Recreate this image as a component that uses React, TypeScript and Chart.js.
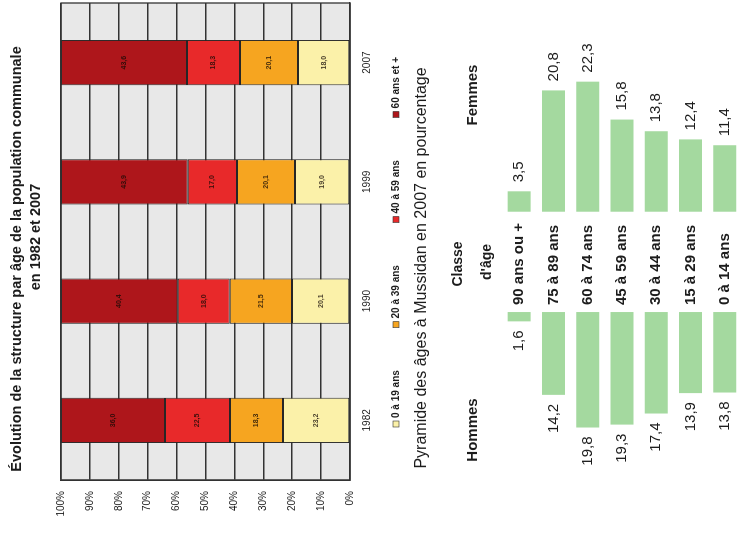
import { useEffect, useRef } from "react";
import { Chart, registerables } from "chart.js";

Chart.register(...registerables);

// Structure par âge, parts en % de la population communale
const years = ["1982", "1990", "1999", "2007"];
const ageGroups = ["0 à 19 ans", "20 à 39 ans", "40 à 59 ans", "60 ans et +"];
const share0to19 = [23.2, 20.1, 19.0, 18.0];
const share20to39 = [18.3, 21.5, 20.1, 20.1];
const share40to59 = [22.5, 18.0, 17.0, 18.3];
const share60plus = [36.0, 40.4, 43.9, 43.6];
const groupColors = ["#fbf1a9", "#f6a520", "#e8292a", "#ae161b"];

// Pyramide des âges 2007, en %
const ageClasses = [
  "90 ans ou +",
  "75 à 89 ans",
  "60 à 74 ans",
  "45 à 59 ans",
  "30 à 44 ans",
  "15 à 29 ans",
  "0 à 14 ans",
];
const hommes = [1.6, 14.2, 19.8, 19.3, 17.4, 13.9, 13.8];
const femmes = [3.5, 20.8, 22.3, 15.8, 13.8, 12.4, 11.4];

const FONT = "'Liberation Sans', Arial, sans-serif";
const INK = "#1c1c1c";
const GREEN = "#a4d99f";

const fmt = (v: number) => v.toFixed(1).replace(".", ",");

export default function App() {
  const structureRef = useRef<HTMLCanvasElement | null>(null);
  const pyramidRef = useRef<HTMLCanvasElement | null>(null);

  useEffect(() => {
    document.documentElement.style.overflow = "hidden";
    document.body.style.overflow = "hidden";

    const series = [share0to19, share20to39, share40to59, share60plus];

    const plotBackground = {
      id: "plotBackground",
      beforeDraw(chart: any) {
        const { ctx, chartArea: a } = chart;
        ctx.save();
        ctx.fillStyle = "#e8e8e8";
        ctx.fillRect(a.left, a.top, a.right - a.left, a.bottom - a.top);
        ctx.restore();
      },
      afterDraw(chart: any) {
        const { ctx, chartArea: a } = chart;
        ctx.save();
        ctx.strokeStyle = "#333";
        ctx.lineWidth = 1.3;
        ctx.strokeRect(a.left, a.top, a.right - a.left, a.bottom - a.top);
        ctx.restore();
      },
    };

    const segmentLabels = {
      id: "segmentLabels",
      afterDatasetsDraw(chart: any) {
        const { ctx } = chart;
        ctx.save();
        ctx.font = `bold 7px ${FONT}`;
        ctx.fillStyle = "rgba(20,10,5,0.8)";
        ctx.textAlign = "center";
        ctx.textBaseline = "middle";
        chart.data.datasets.forEach((ds: any, di: number) => {
          const meta = chart.getDatasetMeta(di);
          meta.data.forEach((bar: any, i: number) => {
            const y = (bar.y + bar.base) / 2;
            ctx.fillText(fmt(ds.data[i]), bar.x, y);
          });
        });
        ctx.restore();
      },
    };

    const headerAndLegend = {
      id: "headerAndLegend",
      afterDraw(chart: any) {
        const { ctx } = chart;
        ctx.save();
        ctx.fillStyle = INK;
        ctx.textBaseline = "middle";
        ctx.textAlign = "center";
        ctx.font = `bold 14.5px ${FONT}`;
        ctx.fillText(
          "Évolution de la structure par âge de la population communale",
          298,
          17
        );
        ctx.fillText("en 1982 et 2007", 320, 36);

        // légende
        ctx.font = `bold 10px ${FONT}`;
        ctx.textAlign = "left";
        const startX = 130;
        const endX = 500;
        const box = 6;
        const items = chart.data.datasets.map((ds: any) => ({
          label: ds.label,
          color: ds.backgroundColor,
          w: box + 3 + ctx.measureText(ds.label).width,
        }));
        const total = items.reduce((s: number, it: any) => s + it.w, 0);
        const gap = (endX - startX - total) / (items.length - 1);
        let x = startX;
        const ly = 396;
        items.forEach((it: any) => {
          ctx.fillStyle = it.color;
          ctx.fillRect(x, ly - box / 2, box, box);
          ctx.strokeStyle = "#333";
          ctx.lineWidth = 0.6;
          ctx.strokeRect(x, ly - box / 2, box, box);
          ctx.fillStyle = INK;
          ctx.fillText(it.label, x + box + 3, ly);
          x += it.w + gap;
        });
        ctx.restore();
      },
    };

    const structure = new Chart(structureRef.current!, {
      type: "bar",
      data: {
        labels: years,
        datasets: series.map((data, i) => ({
          label: ageGroups[i],
          data,
          backgroundColor: groupColors[i],
          borderColor: "#262626",
          borderWidth: 1,
          borderSkipped: false,
        })),
      },
      options: {
        responsive: false,
        animation: false,
        layout: { padding: { top: 61, right: 3, left: 0, bottom: 0 } },
        datasets: { bar: { barPercentage: 0.38, categoryPercentage: 1 } },
        scales: {
          x: {
            stacked: true,
            grid: { display: false, drawTicks: false },
            border: { display: true, color: "#333", width: 1.3 },
            ticks: { padding: 11, color: INK, font: { family: FONT, size: 10 } },
            afterFit: (s: any) => {
              s.height = 60;
            },
          },
          y: {
            stacked: true,
            min: 0,
            max: 100,
            ticks: {
              stepSize: 10,
              padding: 11,
              color: INK,
              font: { family: FONT, size: 10 },
              callback: (v: any) => `${v}%`,
            },
            grid: { color: "#333", lineWidth: 1.5, drawTicks: false },
            border: { display: true, color: "#333", width: 1.3 },
            afterFit: (s: any) => {
              s.width = 77;
            },
          },
        },
        plugins: {
          legend: { display: false },
          title: { display: false },
          tooltip: { enabled: false },
        },
      } as any,
      plugins: [plotBackground, segmentLabels, headerAndLegend],
    });

    // écart central réservé aux classes d'âge, en unités de %
    const GAP = 8.6;

    const pyramidText = {
      id: "pyramidText",
      afterDatasetsDraw(chart: any) {
        const { ctx } = chart;
        const xs = chart.scales.x;
        const ys = chart.scales.y;
        ctx.save();
        ctx.fillStyle = INK;
        ctx.textBaseline = "middle";
        ctx.textAlign = "center";
        ctx.font = `16px ${FONT}`;
        ctx.fillText("Pyramide des âges à Mussidan en 2007 en pourcentage", 289, 22);
        ctx.font = `bold 15px ${FONT}`;
        ctx.fillText("Hommes", 127, 73);
        ctx.fillText("Femmes", 462, 73);
        ctx.font = `bold 14px ${FONT}`;
        ctx.fillText("Classe", 293, 58);
        ctx.fillText("d'âge", 295, 87);

        ageClasses.forEach((lab, i) => {
          const y = ys.getPixelForValue(i);
          ctx.font = `bold 15px ${FONT}`;
          ctx.textAlign = "left";
          ctx.fillText(lab, 252, y);
          ctx.font = `15px ${FONT}`;
          ctx.textAlign = "right";
          ctx.fillText(fmt(hommes[i]), xs.getPixelForValue(-GAP - hommes[i]) - 9, y);
          ctx.textAlign = "left";
          ctx.fillText(fmt(femmes[i]), xs.getPixelForValue(GAP + femmes[i]) + 9, y);
        });
        ctx.restore();
      },
    };

    const pyramid = new Chart(pyramidRef.current!, {
      type: "bar",
      data: {
        labels: ageClasses,
        datasets: [
          {
            label: "Hommes",
            data: hommes.map((v) => [-GAP - v, -GAP]),
            backgroundColor: GREEN,
            borderWidth: 0,
          },
          {
            label: "Femmes",
            data: femmes.map((v) => [GAP, GAP + v]),
            backgroundColor: GREEN,
            borderWidth: 0,
          },
        ],
      },
      options: {
        indexAxis: "y",
        responsive: false,
        animation: false,
        layout: { padding: { top: 102, bottom: 0, left: 0, right: 0 } },
        datasets: { bar: { barPercentage: 0.67, categoryPercentage: 1, grouped: false } },
        scales: {
          x: { display: false, min: -50.6, max: 44.9 },
          y: { display: false },
        },
        plugins: {
          legend: { display: false },
          title: { display: false },
          tooltip: { enabled: false },
        },
      } as any,
      plugins: [pyramidText],
    });

    return () => {
      structure.destroy();
      pyramid.destroy();
    };
  }, []);

  return (
    <div
      style={{
        position: "absolute",
        left: 0,
        top: 0,
        width: 557,
        height: 742,
        background: "#fff",
        transformOrigin: "0 0",
        transform: "translate(0px, 557px) rotate(-90deg)",
      }}
    >
      <canvas
        ref={structureRef}
        width={557}
        height={410}
        style={{ position: "absolute", left: 0, top: 0 }}
      />
      <canvas
        ref={pyramidRef}
        width={557}
        height={342}
        style={{ position: "absolute", left: 0, top: 400 }}
      />
    </div>
  );
}
